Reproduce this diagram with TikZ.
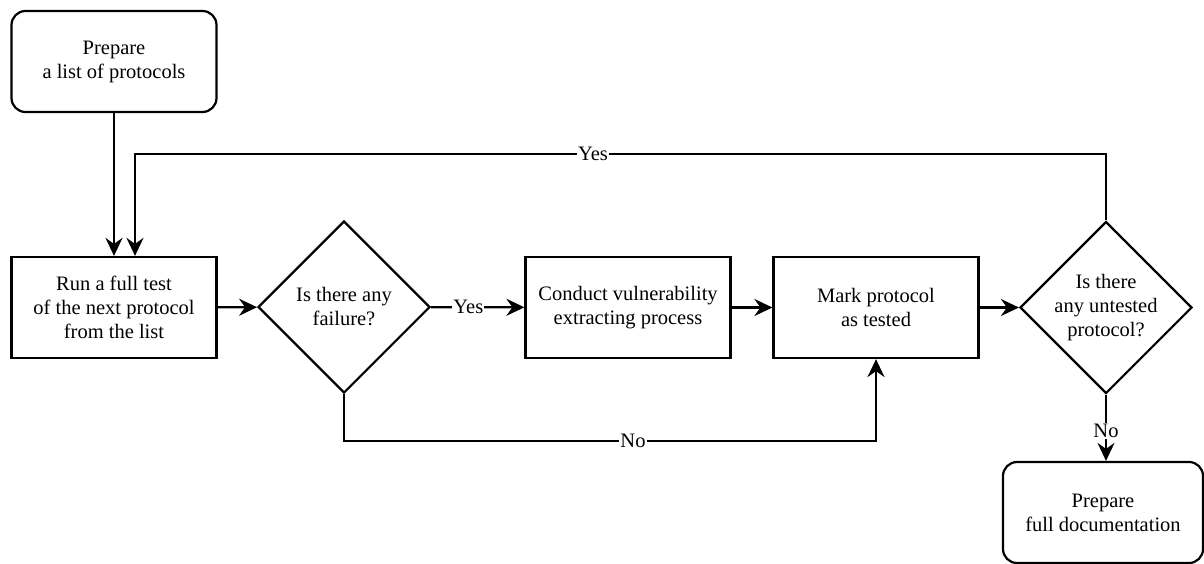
\documentclass[tikz,border=0pt]{standalone}
\usepackage{fontspec}
\setmainfont{Liberation Serif}
\usetikzlibrary{shapes.geometric,arrows.meta}
\begin{document}
\begin{tikzpicture}[x=1pt, y=-1pt, line width=2.2pt,
  every node/.style={font=\fontsize{20.5}{24}\selectfont, align=center},
  proc/.style={draw, minimum width=205pt, minimum height=101pt},
  term/.style={proc, rounded corners=14pt},
  dec/.style={draw, diamond, inner sep=0pt, minimum size=172pt},
  lbl/.style={fill=white, inner sep=1pt},
  >={Stealth[length=18pt,width=17pt,inset=6pt]}]
  \useasboundingbox (0,0) rectangle (1204,563);
  \node[term] (prep) at (114,61.5) {Prepare\\a list of protocols};
  \node[proc] (run) at (114,307.5) {Run a full test\\of the next protocol\\from the list};
  \node[dec] (fail) at (344,307) {Is there any\\failure?};
  \node[proc] (vuln) at (628,307.5) {Conduct vulnerability\\extracting process};
  \node[proc] (mark) at (876,307.5) {Mark protocol\\as tested};
  \node[dec] (untested) at (1106,307.5) {Is there\\any untested\\protocol?};
  \node[term, minimum width=200pt] (docs) at (1103,512.5) {Prepare\\full documentation};
  \coordinate (loop) at (135,154);
  \coordinate (nofail) at (344,441);
  \draw[->] (prep.south) -- (prep.south |- run.north);
  \draw[->] (run) -- (fail);
  \draw[->] (fail) -- node[lbl, pos=.4] {Yes} (vuln);
  \draw[->] (vuln) -- (mark);
  \draw[->] (mark) -- (untested);
  \draw[->] (untested.north) |- (loop) -- (loop |- run.north);
  \node[lbl] (yes2) at (593,154) {Yes};
  \draw[->] (fail.south) -- (nofail) -| (mark.south);
  \node[lbl] (no1) at (633,441) {No};
  \draw[->] (untested.south) -- node[lbl, pos=.55] {No} (untested.south |- docs.north);
\end{tikzpicture}
\end{document}
